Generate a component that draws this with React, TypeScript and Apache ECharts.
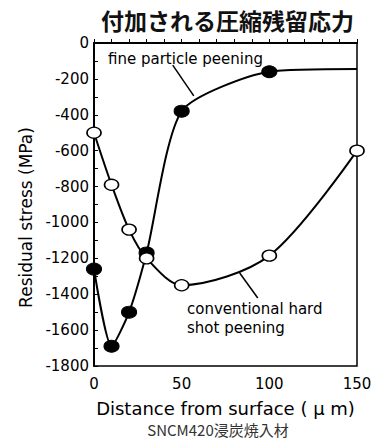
import React, { useEffect, useRef } from "react";
import * as echarts from "echarts";

const TITLE = "付加される圧縮残留応力";
const SUBTITLE = "SNCM420浸炭焼入材";
const X_NAME = "Distance from surface ( μ m)";
const Y_NAME = "Residual stress (MPa)";

// fine particle peening (filled markers); last point is the curve end only
const fineX = [0, 10, 20, 30, 50, 100, 150];
const fineY = [-1260, -1690, -1500, -1170, -380, -160, -145];
const fineMarked = [true, true, true, true, true, true, false];

// conventional hard shot peening (open markers)
const convX = [0, 10, 20, 30, 50, 100, 150];
const convY = [-500, -790, -1040, -1200, -1350, -1185, -600];

// leader lines (data coordinates)
const fineLeader = [[44.9, -123], [56.9, -295]];
const convLeader = [[83.1, -1282], [93.4, -1421]];

const LATIN = "DejaVu Sans";
const CJK = "Noto Sans CJK JP";

export default function App() {
  const ref = useRef<HTMLDivElement>(null);
  useEffect(() => {
    if (!ref.current) return;
    const chart = echarts.init(ref.current, undefined, { renderer: "svg" });
    const leader = (pts: number[][]) => ({
      silent: true,
      symbol: ["none", "none"],
      label: { show: false },
      lineStyle: { color: "#000", width: 1.5, type: "solid" },
      data: [[{ coord: pts[0] }, { coord: pts[1] }]],
    });
    chart.setOption({
      animation: false,
      backgroundColor: "#fff",
      title: {
        text: TITLE,
        left: 96,
        top: 3,
        textStyle: { fontFamily: CJK, fontSize: 23, fontWeight: "bold", color: "#111" },
      },
      grid: {
        left: 94,
        right: 27,
        top: 43,
        bottom: 73,
        show: true,
        borderColor: "#000",
        borderWidth: 1.5,
        backgroundColor: "transparent",
      },
      xAxis: {
        type: "value",
        min: 0,
        max: 150,
        interval: 50,
        name: X_NAME,
        nameLocation: "middle",
        nameGap: 33,
        nameTextStyle: { fontFamily: LATIN, fontSize: 18, color: "#000" },
        axisLine: { show: true, lineStyle: { color: "#000", width: 2 } },
        axisTick: { show: true, inside: true, length: 4, lineStyle: { color: "#000", width: 1 } },
        minorTick: { show: true, splitNumber: 5, length: 4, lineStyle: { color: "#000", width: 1 } },
        axisLabel: { fontFamily: LATIN, fontSize: 15, color: "#000", margin: 10 },
        splitLine: { show: false },
      },
      yAxis: {
        type: "value",
        min: -1800,
        max: 0,
        interval: 200,
        name: Y_NAME,
        nameLocation: "middle",
        nameGap: 48,
        nameTextStyle: {
          fontFamily: LATIN,
          fontSize: 17,
          color: "#000",
          padding: [0, 26, 0, 0],
        },
        axisLine: { show: true, lineStyle: { color: "#000", width: 2 } },
        axisTick: { show: true, inside: true, length: 4, lineStyle: { color: "#000", width: 1 } },
        minorTick: { show: true, splitNumber: 2, length: 4, lineStyle: { color: "#000", width: 1 } },
        axisLabel: {
          fontFamily: LATIN,
          fontSize: 15,
          color: "#000",
          margin: 5,
          formatter: (v: number) => String(v),
        },
        splitLine: { show: false },
      },
      series: [
        {
          type: "line",
          name: "fine particle peening",
          smooth: 0.22,
          clip: false,
          z: 3,
          symbol: "circle",
          symbolSize: [15, 12],
          itemStyle: { color: "#000", borderColor: "#000", borderWidth: 1 },
          lineStyle: { color: "#000", width: 2 },
          data: fineX.map((x, i) =>
            fineMarked[i] ? { value: [x, fineY[i]] } : { value: [x, fineY[i]], symbol: "none" }
          ),
          markLine: leader(fineLeader),
        },
        {
          type: "line",
          name: "conventional hard shot peening",
          smooth: 0.3,
          clip: false,
          z: 4,
          symbol: "circle",
          symbolSize: [14, 11],
          itemStyle: { color: "#fff", borderColor: "#000", borderWidth: 1.5 },
          lineStyle: { color: "#000", width: 2 },
          data: convX.map((x, i) => [x, convY[i]]),
          markLine: leader(convLeader),
        },
      ],
      graphic: [
        {
          type: "text",
          left: 108,
          top: 51,
          style: { text: "fine particle peening", fontFamily: LATIN, fontSize: 15, fill: "#000" },
        },
        {
          type: "text",
          left: 187,
          top: 299,
          style: {
            text: "conventional hard\nshot peening",
            fontFamily: LATIN,
            fontSize: 15,
            lineHeight: 19,
            fill: "#000",
          },
        },
        {
          type: "text",
          x: 218,
          y: 429,
          style: {
            text: SUBTITLE,
            fontFamily: CJK,
            fontSize: 15,
            fill: "#333",
            align: "center",
            verticalAlign: "middle",
          },
        },
      ],
    });
    return () => chart.dispose();
  }, []);
  return (
    <div
      ref={ref}
      style={{ position: "absolute", left: 0, top: 0, width: 384, height: 439 }}
    />
  );
}
